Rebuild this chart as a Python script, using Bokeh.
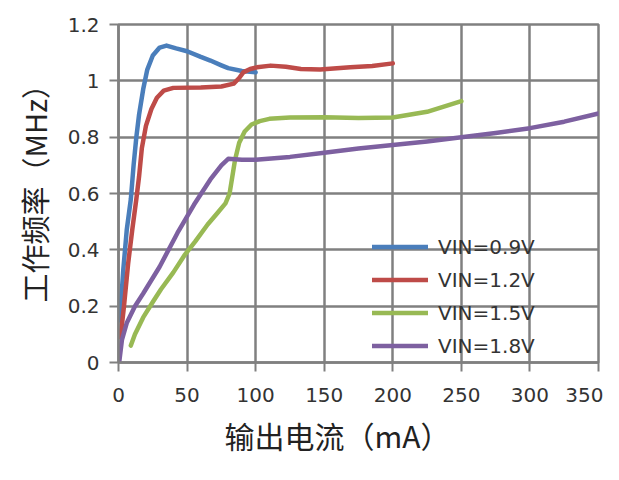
from bokeh.plotting import figure
from bokeh.embed import file_html
from bokeh.resources import INLINE
from bokeh.models import FixedTicker, Title

# ---- data ----
x_09 = [1, 3.5, 6, 9, 11, 13, 15, 18, 21, 25, 30, 35, 42, 50, 60, 67, 75, 80, 90, 100]
y_09 = [0.15, 0.33, 0.47, 0.58, 0.70, 0.80, 0.88, 0.97, 1.04, 1.09, 1.118, 1.125, 1.115,
        1.105, 1.085, 1.072, 1.055, 1.045, 1.035, 1.03]

x_12 = [1.5, 4, 7, 10, 13, 15, 17, 20, 24, 28, 33, 40, 60, 75, 84, 88, 91, 96, 101, 111,
        122, 133, 147, 169, 185, 200]
y_12 = [0.09, 0.20, 0.35, 0.47, 0.58, 0.66, 0.76, 0.84, 0.90, 0.94, 0.965, 0.975, 0.976,
        0.98, 0.99, 1.01, 1.03, 1.042, 1.048, 1.054, 1.05, 1.042, 1.04, 1.048, 1.053, 1.062]

x_15 = [9, 12, 18, 25, 31, 40, 48, 56, 65, 72, 78, 81, 83, 85, 88, 92, 97, 103, 110, 125,
        150, 175, 200, 225, 250]
y_15 = [0.06, 0.10, 0.16, 0.215, 0.26, 0.32, 0.38, 0.43, 0.49, 0.53, 0.565, 0.60, 0.66,
        0.72, 0.78, 0.82, 0.845, 0.857, 0.865, 0.87, 0.871, 0.868, 0.87, 0.89, 0.928]

x_18 = [0.5, 2.5, 6, 12, 18, 30, 43, 55, 67, 75, 80, 90, 100, 125, 150, 175, 200, 225, 250,
        275, 300, 325, 350]
y_18 = [0.0, 0.08, 0.14, 0.20, 0.245, 0.34, 0.46, 0.56, 0.65, 0.70, 0.723, 0.72, 0.72,
        0.73, 0.745, 0.76, 0.772, 0.785, 0.80, 0.815, 0.832, 0.855, 0.884]

labels = ["VIN=0.9V", "VIN=1.2V", "VIN=1.5V", "VIN=1.8V"]
colors = ["#4A7EBB", "#BE4B48", "#98B954", "#7D60A0"]
x_ticks = [0, 50, 100, 150, 200, 250, 300, 350]
y_ticks = [0, 0.2, 0.4, 0.6, 0.8, 1.0, 1.2]
y_tick_text = {0: "0", 0.2: "0.2", 0.4: "0.4", 0.6: "0.6", 0.8: "0.8", 1.0: "1", 1.2: "1.2"}
x_title = "输出电流（mA）"
y_title = "工作频率（MHz）"

grid_col = "#808080"

p = figure(width=603, height=464, x_range=(0, 350), y_range=(0, 1.2),
           output_backend="svg", toolbar_location=None,
           min_border_left=118, min_border_right=5, min_border_top=24,
           min_border_bottom=102)

series = [(x_09, y_09), (x_12, y_12), (x_15, y_15), (x_18, y_18)]
for (xs, ys), lab, c in zip(series, labels, colors):
    p.line(xs, ys, line_color=c, line_width=4.5, legend_label=lab, line_join="round",
           line_cap="round")

xt = FixedTicker(ticks=x_ticks)
yt = FixedTicker(ticks=y_ticks)
p.xaxis.ticker = xt
p.yaxis.ticker = yt
p.xgrid.ticker = xt
p.ygrid.ticker = yt
p.yaxis.major_label_overrides = y_tick_text

for g in (p.xgrid[0], p.ygrid[0]):
    g.grid_line_color = grid_col
    g.grid_line_width = 2.5
    g.grid_line_alpha = 1.0

for ax in (p.xaxis[0], p.yaxis[0]):
    ax.axis_line_color = grid_col
    ax.axis_line_width = 2.5
    ax.major_tick_line_color = grid_col
    ax.major_tick_line_width = 2
    ax.major_tick_out = 9
    ax.major_tick_in = 0
    ax.minor_tick_line_color = None
    ax.major_label_text_font = "DejaVu Sans"
    ax.major_label_text_font_size = "20px"
    ax.major_label_text_color = "#333333"
p.xaxis.major_label_standoff = 16
p.yaxis.major_label_standoff = 10
p.outline_line_color = grid_col
p.outline_line_width = 2.5

xt_title = Title(text=x_title, align="left", offset=106, standoff=13,
                 text_font="Noto Sans CJK SC", text_font_size="30px",
                 text_font_style="normal", text_color="#222222")
yt_title = Title(text=y_title, align="left", offset=60, standoff=19,
                 text_font="Noto Sans CJK SC", text_font_size="29px",
                 text_font_style="normal", text_color="#222222")
p.add_layout(xt_title, "below")
p.add_layout(yt_title, "left")

leg = p.legend[0]
leg.location = (254, 4)
leg.background_fill_alpha = 0
leg.border_line_alpha = 0
leg.padding = 0
leg.margin = 0
leg.spacing = 8
leg.glyph_width = 56
leg.glyph_height = 25
leg.label_height = 25
leg.label_standoff = 10
leg.label_text_font = "DejaVu Sans"
leg.label_text_font_size = "20px"
leg.label_text_color = "#333333"

open("out.html", "w").write(file_html(p, INLINE))
